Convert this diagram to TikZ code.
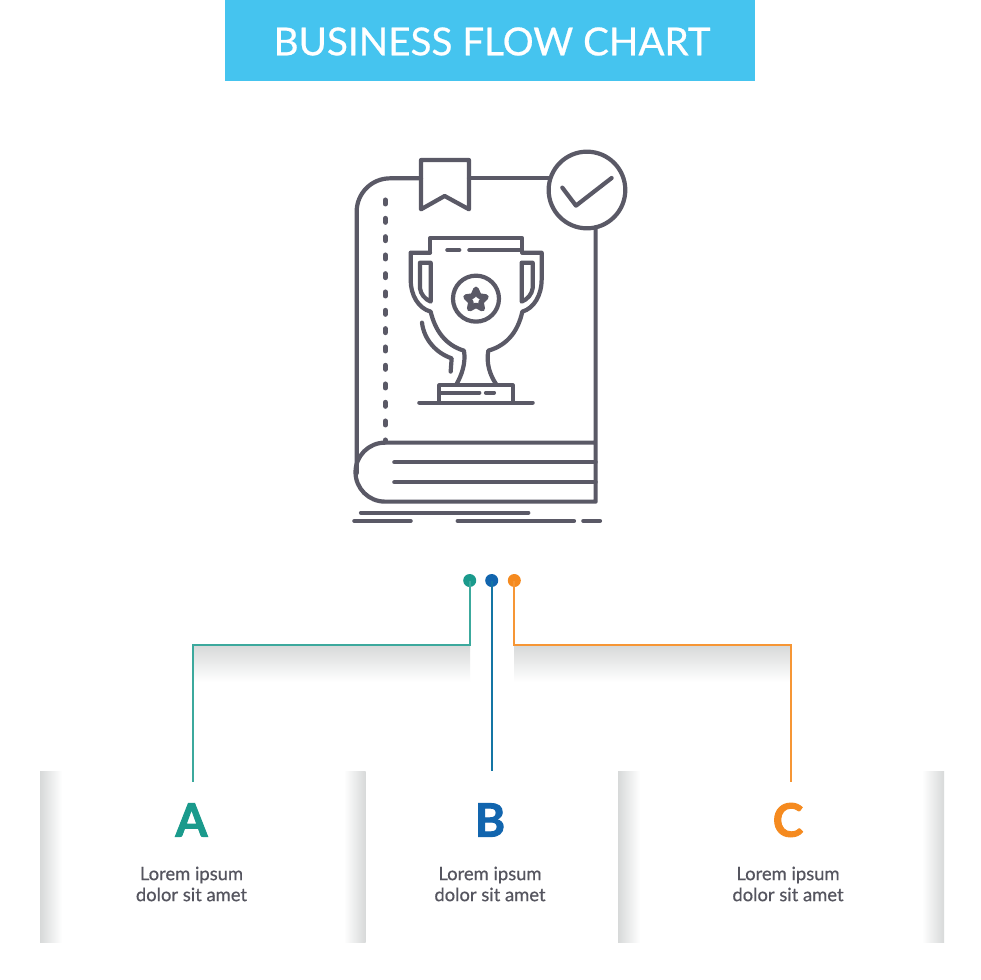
\documentclass[tikz,border=0pt]{standalone}
\usepackage{fontspec}
\setmainfont{Lato}
\newfontfamily\titlefont{Lato}[FakeBold=0.6]
\newfontfamily\bodyfont{Lato}[FakeBold=0.5]
\newfontfamily\heavyfont{Lato Bold}[FakeBold=2]
\usetikzlibrary{shadings}
\definecolor{ink}{HTML}{5A5966}
\definecolor{headblue}{HTML}{45C4EF}
\definecolor{teal1}{HTML}{1A9A8C}
\definecolor{blue1}{HTML}{1265AE}
\definecolor{orange1}{HTML}{F58A1F}
\definecolor{shade1}{HTML}{D7D9D9}
\definecolor{shade2}{HTML}{F1F1F1}
\definecolor{txt}{HTML}{55555F}
\tikzset{
  icon/.style={draw=ink,line width=4.2pt,line cap=round,line join=round},
  conn/.style={line width=2pt},
  dotn/.style={circle,inner sep=0pt,minimum size=13pt},
  letter/.style={font=\heavyfont\fontsize{46}{46}\selectfont},
  body/.style={font=\bodyfont\fontsize{18.4}{21}\selectfont,text=txt,align=center},
}
\begin{document}
\begin{tikzpicture}[x=1pt,y=-1pt]
\useasboundingbox (0,0) rectangle (980,980);
\fill[white] (0,0) rectangle (980,980);
% header
\fill[headblue] (225,0) rectangle (755,81);
\node[text=white,font=\titlefont\fontsize{38.6}{39}\selectfont,inner sep=0pt] (title) at (492,41.5) {BUSINESS FLOW CHART};
% shadows under connectors
\shade[top color=shade1,middle color=shade2,bottom color=white] (192,645) rectangle (470,682);
\shade[top color=shade1,middle color=shade2,bottom color=white] (514,645) rectangle (791,682);
% panels
\shade[left color=shade1,middle color=shade2,right color=white] (40,771) rectangle (62,942);
\shade[left color=white,middle color=shade2,right color=shade1] (344,771) rectangle (365.5,942);
\shade[left color=shade1,middle color=shade2,right color=white] (618,771) rectangle (640,942);
\shade[left color=white,middle color=shade2,right color=shade1] (922,771) rectangle (944,942);
% connectors
\node[dotn,fill=teal1] (da) at (469.7,580.5) {};
\node[dotn,fill=blue1] (db) at (491.7,580.5) {};
\node[dotn,fill=orange1] (dc) at (514.3,580.5) {};
\coordinate (ea) at (192.5,781.5);
\coordinate (eb) at (491.7,771);
\coordinate (ec) at (791,781.5);
\draw[conn,draw=teal1!85!white] (da.center) -- (469.7,645) -- (192.5,645) -- (ea);
\draw[conn,draw=blue1!70!teal1] (db.center) -- (eb);
\draw[conn,draw=orange1!90!white] (dc.center) -- (514.3,645) -- (791,645) -- (ec);
% labels
\node[letter,text=teal1,inner sep=0pt] (la) at (191.5,820) {A};
\node[letter,text=blue1,inner sep=0pt] (lb) at (490,820) {B};
\node[letter,text=orange1,inner sep=0pt] (lc) at (788,820) {C};
\node[body,inner sep=0pt] (ta) at (191.5,884) {Lorem ipsum\\dolor sit amet};
\node[body,inner sep=0pt] (tb) at (490,884) {Lorem ipsum\\dolor sit amet};
\node[body,inner sep=0pt] (tc) at (788,884) {Lorem ipsum\\dolor sit amet};
% icon, in coordinates of the 3x crop
\begin{scope}[shift={(340,140)},x=0.3333pt,y=-0.3333pt,icon]
  % book
  \draw (243,115) -- (150,115) arc[start angle=-90,end angle=-180,radius=100] -- (50,1000);
  \draw (387,115) -- (628,115);
  \draw (767,262) -- (767,1085) -- (135,1085) arc[start angle=90,end angle=270,radius=88.5] -- (767,908);
  \draw (163,967) -- (767,967);
  \draw (163,1027) -- (767,1027);
  \draw (243,60) -- (387,60) -- (387,208) -- (314,168) -- (243,208) -- cycle;
  \draw (741,150) circle[radius=115];
  \draw (667,143) -- (708,197) -- (815,114);
  \foreach \yy in {186,241,296,351,407,462,517,572,627,682,738,793,849}
    \draw[line width=5pt] (136,\yy-6) -- (136,\yy+6);
  \draw[line width=5pt] (136,900) -- (136,906);
  \draw (63,1118) -- (565,1118);
  \draw (43,1143) -- (212,1143);
  \draw (353,1143) -- (702,1143);
  \draw (730,1143) -- (780,1143);
  % trophy
  \draw (270,338) -- (270,295) -- (547,295) -- (547,338);
  \draw (270,338) -- (212,338) -- (212,420) .. controls (212,465) and (235,505) .. (272,515)
        .. controls (285,570) and (315,615) .. (372,632)
        .. controls (378,670) and (365,705) .. (350,732);
  \draw (547,338) -- (605,338) -- (605,420) .. controls (605,465) and (582,505) .. (547,515)
        .. controls (535,570) and (505,615) .. (445,632)
        .. controls (438,670) and (450,705) .. (468,732);
  \draw (298,788) -- (298,736) -- (518,736) -- (518,788);
  \draw (238,788) -- (578,788);
  \draw (305,758) -- (418,758);
  \draw (438,758) -- (462,758);
  \draw (322,330) -- (358,330);
  \draw (388,330) -- (545,330);
  \draw (272,368) -- (240,368) -- (240,445) .. controls (242,462) and (255,478) .. (272,485) -- cycle;
  \draw (545,368) -- (578,368) -- (578,445) .. controls (576,462) and (563,478) .. (545,485) -- cycle;
  \draw (408,476) circle[radius=69];
  \draw[line width=5.5pt] (408,448) -- (417,468) -- (438,471) -- (423,486) -- (427,506) -- (408,496) -- (389,506) -- (393,486) -- (378,471) -- (399,468) -- cycle;
  \draw (246,548) .. controls (252,600) and (290,640) .. (335,655) -- (332,695);
\end{scope}
\end{tikzpicture}
\end{document}
